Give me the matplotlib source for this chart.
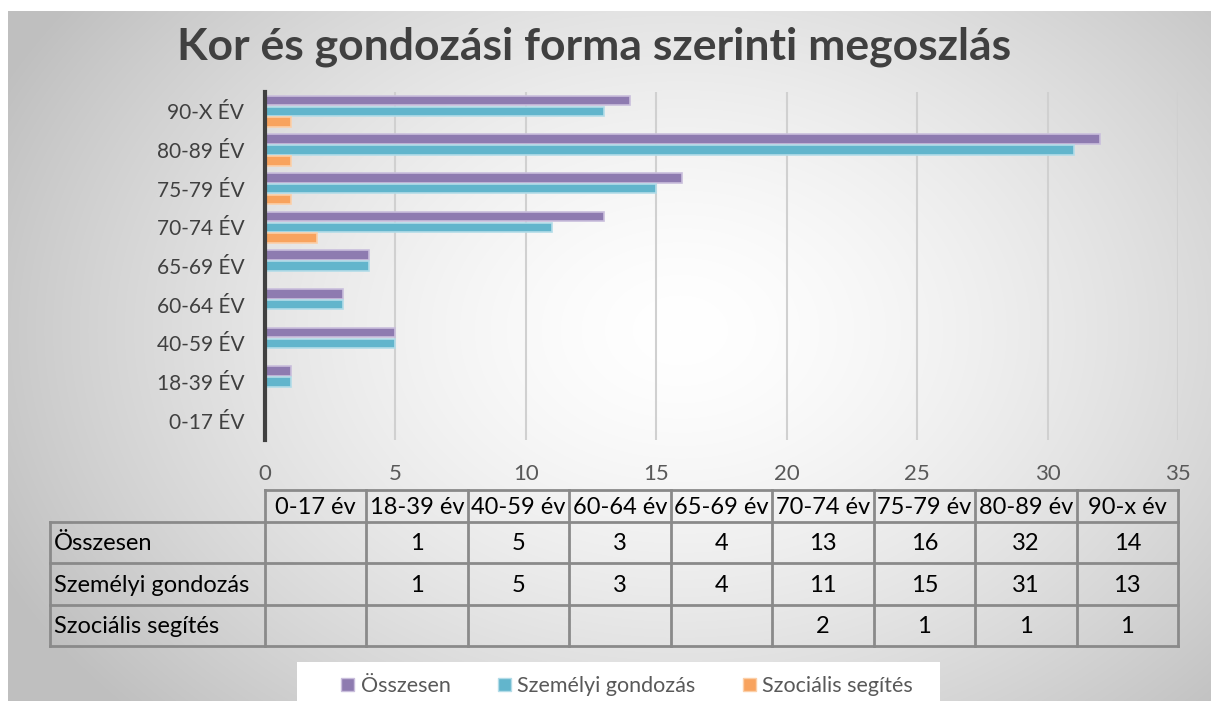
import matplotlib.pyplot as plt
import numpy as np
from matplotlib.patches import Patch, Rectangle

plt.rcParams['font.family'] = ['Lato', 'DejaVu Sans']

# data
categories = ['0-17 ÉV', '18-39 ÉV', '40-59 ÉV', '60-64 ÉV', '65-69 ÉV',
              '70-74 ÉV', '75-79 ÉV', '80-89 ÉV', '90-X ÉV']
col_labels = ['0-17 év', '18-39 év', '40-59 év', '60-64 év', '65-69 év',
              '70-74 év', '75-79 év', '80-89 év', '90-x év']
series_names = ['Összesen', 'Személyi gondozás', 'Szociális segítés']
osszesen = [None, 1, 5, 3, 4, 13, 16, 32, 14]
szemelyi = [None, 1, 5, 3, 4, 11, 15, 31, 13]
szocialis = [None, None, None, None, None, 2, 1, 1, 1]
series = [osszesen, szemelyi, szocialis]

colors = ['#8e7bb0', '#62b5cc', '#f8a35e']
edges = ['#c9bedc', '#b3dce8', '#fbcfa8']

W, H = 1211, 701
fig = plt.figure(figsize=(W / 100, H / 100), dpi=100)
fig.patch.set_facecolor('white')

# radial grey background panel
bg = fig.add_axes([0, 0, 1, 1], zorder=0)
yy, xx = np.mgrid[0:H, 0:W]
r = np.sqrt(((xx - 680) / 760.0) ** 2 + ((yy - 330) / 560.0) ** 2)
t = np.clip(r, 0, 1) ** 1.5
img = 255 - t * 64
img[:11, :] = 255
img[:, :8] = 255
bg.imshow(np.dstack([img, img, img]).astype(np.uint8), extent=(0, W, H, 0), aspect='auto')
bg.set_xlim(0, W)
bg.set_ylim(H, 0)
bg.axis('off')

# main bar chart
x0, x1, ytop, ybot = 265, 1178, 92, 440
ax = fig.add_axes([x0 / W, 1 - ybot / H, (x1 - x0) / W, (ybot - ytop) / H], zorder=2)
ax.patch.set_alpha(0)
ypos = np.arange(len(categories))
offsets = [0.28, 0.0, -0.28]
for vals, off, c, e, name in zip(series, offsets, colors, edges, series_names):
    v = [0 if x is None else x for x in vals]
    ax.barh(ypos + off, v, height=0.245, color=c, edgecolor=e, linewidth=1.2, label=name, zorder=3)

ax.set_xlim(0, 35)
ax.set_ylim(-0.5, len(categories) - 0.5)
ax.set_xticks(range(0, 36, 5))
ax.set_yticks(ypos)
ax.set_yticklabels(categories)
ax.tick_params(axis='y', length=0, pad=15, labelsize=15, labelcolor='#404040')
ax.tick_params(axis='x', length=0, pad=17, labelsize=16, labelcolor='#595959')
ax.grid(axis='x', color='#d0d0d0', linewidth=1.5, zorder=0)
for s in ['top', 'right', 'bottom']:
    ax.spines[s].set_visible(False)
ax.spines['left'].set_color('#404040')
ax.spines['left'].set_linewidth(3)
ax.spines['left'].set_zorder(4)

# title
fig.text(594 / W, 1 - 47 / H, 'Kor és gondozási forma szerinti megoszlás',
         ha='center', va='center', fontsize=32, fontweight='bold', color='#404040')

# data table below the chart, drawn in pixel coordinates
ov = fig.add_axes([0, 0, 1, 1], zorder=3)
ov.set_xlim(0, W)
ov.set_ylim(H, 0)
ov.axis('off')
ov.patch.set_alpha(0)
ncol = len(col_labels)
cw = (x1 - x0) / ncol
lab_x0 = 50
rows_y = [490, 522, 563, 605, 646]
lc, lw = '#8a8a8a', 2
ov.plot([x0, x1], [rows_y[0], rows_y[0]], color=lc, lw=lw)
for i in range(ncol + 1):
    ov.plot([x0 + i * cw] * 2, [rows_y[0], rows_y[-1]], color=lc, lw=lw)
for yv in rows_y[1:]:
    ov.plot([lab_x0, x1], [yv, yv], color=lc, lw=lw)
ov.plot([lab_x0, lab_x0], [rows_y[1], rows_y[-1]], color=lc, lw=lw)
fs = 17
for i, lab in enumerate(col_labels):
    ov.text(x0 + (i + 0.5) * cw, (rows_y[0] + rows_y[1]) / 2 + 1, lab,
            ha='center', va='center', fontsize=fs, color='black')
for j, (name, vals) in enumerate(zip(series_names, series)):
    yc = (rows_y[j + 1] + rows_y[j + 2]) / 2 + 1
    ov.text(lab_x0 + 4, yc, name, ha='left', va='center', fontsize=fs, color='black')
    for i, v in enumerate(vals):
        if v is not None:
            ov.text(x0 + (i + 0.5) * cw, yc, str(v), ha='center', va='center',
                    fontsize=fs, color='black')

# legend
ov.add_patch(Rectangle((297, 662), 643, 45, facecolor='white', edgecolor='none'))
handles = [Patch(facecolor=c, edgecolor=e) for c, e in zip(colors, edges)]
fig.legend(handles, series_names, loc='center', bbox_to_anchor=(627 / W, 1 - 686 / H),
           ncol=3, frameon=False, fontsize=15.5, handlelength=0.6, handleheight=0.6,
           handletextpad=0.3, columnspacing=2.2, labelcolor='#595959')

fig.savefig('out.png', dpi=100)
